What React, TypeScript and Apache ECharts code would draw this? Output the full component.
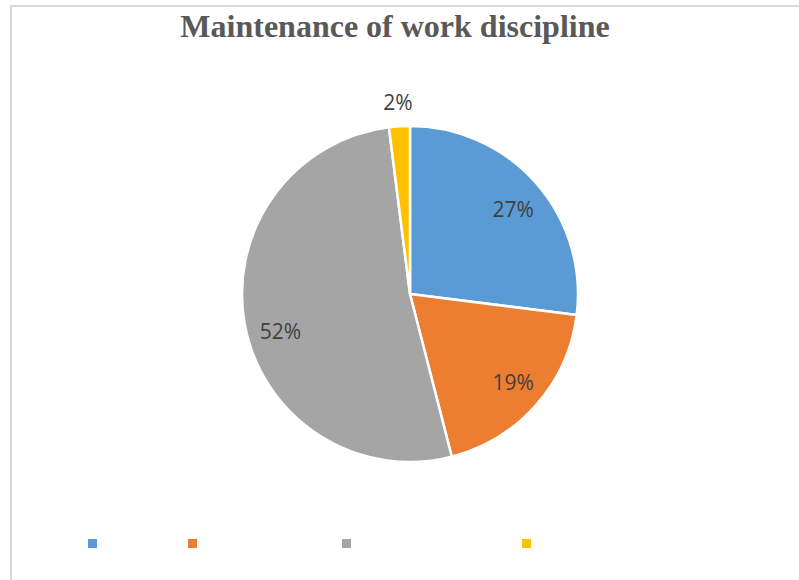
import React, { useEffect, useRef } from "react";
import * as echarts from "echarts";

const titleText = "Maintenance of work discipline";
const categories = ["Category 1", "Category 2", "Category 3", "Category 4"];
const values = [27, 19, 52, 2];
const colors = ["#5B9BD5", "#ED7D31", "#A5A5A5", "#FFC000"];
const legendLefts = [88, 188, 342, 522];
const labelOffsets = [[2, 4], [2, -1], [3, 12], [0, 0]];

export default function App() {
  const ref = useRef<HTMLDivElement>(null);
  useEffect(() => {
    if (!ref.current) return;
    const chart = echarts.init(ref.current, undefined, { renderer: "svg" });
    const data = categories.map((name, i) => ({ name, value: values[i], itemStyle: { color: colors[i] } }));
    const center = [410, 294];
    const labelStyle = { color: "#404040", fontSize: 21, fontFamily: "Open Sans" };
    chart.setOption({
      animation: false,
      backgroundColor: "#ffffff",
      title: {
        text: titleText,
        left: 390,
        textAlign: "center",
        top: 5,
        textStyle: { fontFamily: "Liberation Serif", fontWeight: "bold", fontSize: 32, color: "#595959" },
      },
      legend: categories.map((name, i) => ({
        data: [name],
        left: legendLefts[i],
        top: 539,
        padding: 0,
        icon: "rect",
        itemWidth: 9,
        itemHeight: 9,
        itemStyle: { borderWidth: 0 },
        formatter: () => "",
        selectedMode: false,
      })),
      graphic: [
        { type: "line", shape: { x1: 11, y1: 6, x2: 799, y2: 6 }, style: { stroke: "#d9d9d9", lineWidth: 2 } },
        { type: "line", shape: { x1: 11, y1: 5, x2: 11, y2: 580 }, style: { stroke: "#d9d9d9", lineWidth: 2 } },
      ],
      series: [
        {
          type: "pie",
          center,
          radius: [0, 168],
          startAngle: 90,
          data,
          itemStyle: { borderColor: "#ffffff", borderWidth: 2.5 },
          label: { show: false },
          labelLine: { show: false },
          emphasis: { disabled: true },
        },
        {
          type: "pie",
          center,
          radius: [0, 264],
          startAngle: 90,
          silent: true,
          legendHoverLink: false,
          data: data.map((d, i) => ({
            name: d.name,
            value: d.value,
            itemStyle: { color: "rgba(0,0,0,0)" },
            label: { show: i < 3, offset: labelOffsets[i] },
          })),
          label: { position: "inside", formatter: "{c}%", ...labelStyle },
          labelLine: { show: false },
          emphasis: { disabled: true },
        },
        {
          type: "pie",
          center,
          radius: [0, 378],
          startAngle: 90,
          silent: true,
          legendHoverLink: false,
          data: data.map((d, i) => ({
            name: d.name,
            value: d.value,
            itemStyle: { color: "rgba(0,0,0,0)" },
            label: { show: i === 3, offset: labelOffsets[i] },
          })),
          label: { position: "inside", formatter: "{c}%", ...labelStyle },
          labelLine: { show: false },
          emphasis: { disabled: true },
        },
      ],
    });
    return () => chart.dispose();
  }, []);
  return <div ref={ref} style={{ position: "fixed", left: 0, top: 0, width: 799, height: 580 }} />;
}
